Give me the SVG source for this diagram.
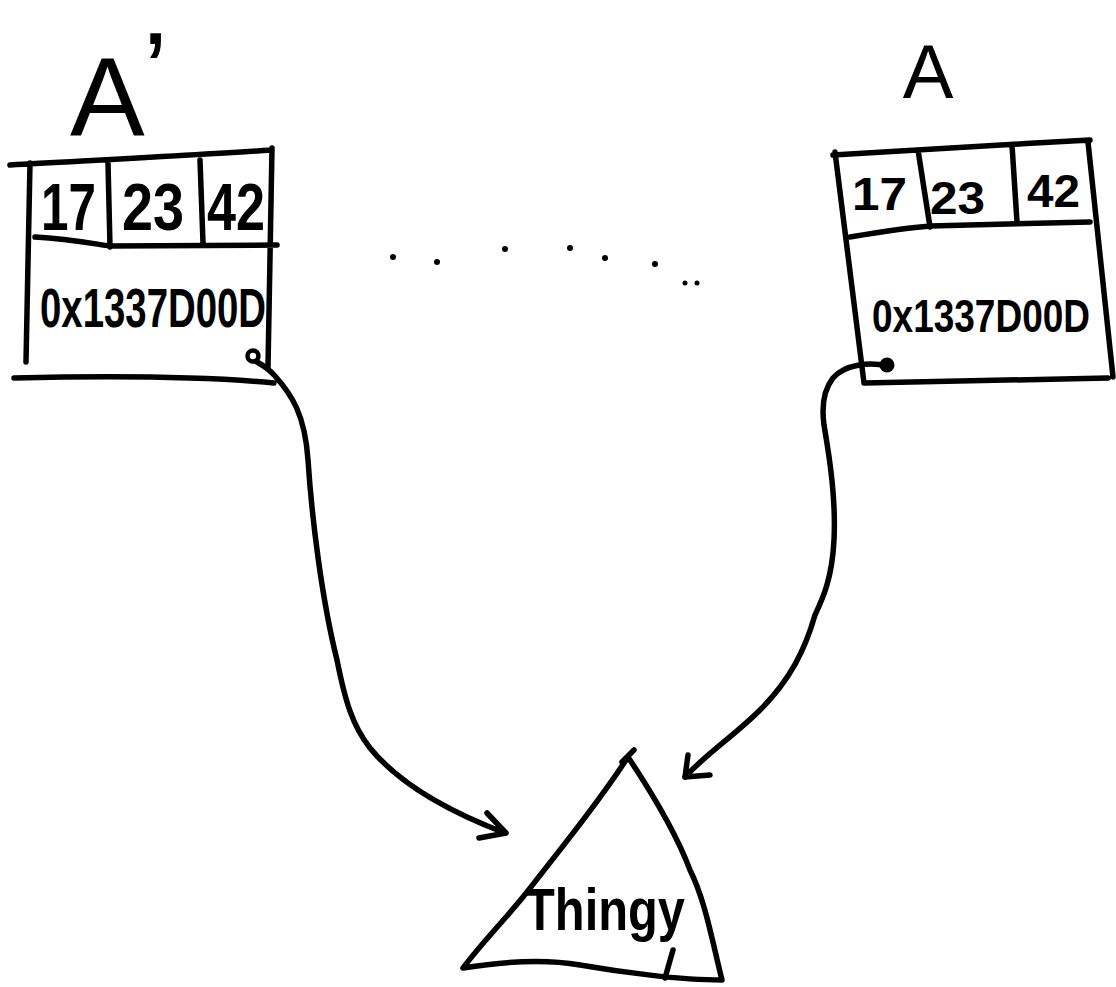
<svg xmlns="http://www.w3.org/2000/svg" width="1116" height="987" viewBox="0 0 1116 987">
<style>
.ln{fill:none;stroke:#000;stroke-width:5.5;stroke-linecap:round;stroke-linejoin:round}
.tx{font-family:"Liberation Sans","DejaVu Sans",sans-serif;fill:#000}
.b{font-weight:bold}
.dot{fill:#000}
</style>
<rect width="1116" height="987" fill="#fff"/>
<g id="node-a-prime">
<text class="tx" x="70 143" y="135 110" font-size="112">A’</text>
<path class="ln" d="M10,165 C100,160 200,155 272,150 M30,163 L26,362 M272,148 L268,367 M14,378 C100,376 200,376 274,383 M35,237 C70,239 95,244 110,246 L277,245 M108,163 L110,247 M200,160 L203,243"/>
<text class="tx b" x="41" y="230" font-size="66" textLength="55" lengthAdjust="spacingAndGlyphs">17</text>
<text class="tx b" x="122" y="230" font-size="66" textLength="62" lengthAdjust="spacingAndGlyphs">23</text>
<text class="tx b" x="207" y="230" font-size="66" textLength="58" lengthAdjust="spacingAndGlyphs">42</text>
<text class="tx b" x="40" y="327" font-size="55" textLength="226" lengthAdjust="spacingAndGlyphs">0x1337D00D</text>
<circle cx="253" cy="356" r="5.5" fill="none" stroke="#000" stroke-width="4.5"/>
</g>
<g id="node-a">
<text class="tx" x="928" y="98" font-size="76" text-anchor="middle">A</text>
<path class="ln" d="M833,155 C900,151 1000,145 1090,140 M835,152 L864,383 M864,383 L1108,378 M1088,142 L1113,377 M850,237 C880,232 905,228 930,226 L1090,222 M918,150 L930,227 M1012,145 L1017,222"/>
<text class="tx b" x="852" y="210" font-size="46" textLength="55" lengthAdjust="spacingAndGlyphs">17</text>
<text class="tx b" x="930" y="214" font-size="46" textLength="55" lengthAdjust="spacingAndGlyphs">23</text>
<text class="tx b" x="1027" y="207" font-size="46" textLength="53" lengthAdjust="spacingAndGlyphs">42</text>
<text class="tx b" transform="translate(872,332) scale(1,1.25)" x="0" y="0" font-size="37" textLength="218" lengthAdjust="spacingAndGlyphs">0x1337D00D</text>
<circle class="dot" cx="887" cy="365" r="7.5"/>
</g>
<g id="node-thingy">
<path class="ln" d="M628,757 C600,800 560,850 523,897 C500,925 480,945 463,968 C500,962 540,958 580,965 C620,972 680,980 722,980 C712,940 705,900 690,870 C675,830 650,790 628,757 Z M622,762 L634,750 M673,950 L665,978"/>
<text class="tx b" x="525" y="930" font-size="60" textLength="160" lengthAdjust="spacingAndGlyphs">Thingy</text>
</g>
<g id="ellipsis">
<circle class="dot" cx="393" cy="257" r="3"/>
<circle class="dot" cx="437" cy="262" r="3"/>
<circle class="dot" cx="505" cy="249" r="3"/>
<circle class="dot" cx="570" cy="248" r="3"/>
<circle class="dot" cx="605" cy="258" r="3"/>
<circle class="dot" cx="655" cy="264" r="3"/>
<circle class="dot" cx="685" cy="283" r="2.5"/>
<circle class="dot" cx="697" cy="283" r="2.5"/>
</g>
<g id="connectors">
<path class="ln" d="M257,362 Q268,368 275,376 C292,395 305,415 308,460 C312,520 322,600 337,660 C345,700 352,725 370,748 C400,785 450,812 505,833"/>
<path class="ln" d="M487,813 L506,833 L479,838"/>
<path class="ln" d="M887,366 C870,362 845,364 833,378 C822,392 822,410 824,425 C830,460 836,500 834,540 C832,580 822,600 815,615 C805,650 790,680 760,710 C735,735 705,755 685,777"/>
<path class="ln" d="M688,755 L685,777 L710,775"/>
</g>
</svg>
